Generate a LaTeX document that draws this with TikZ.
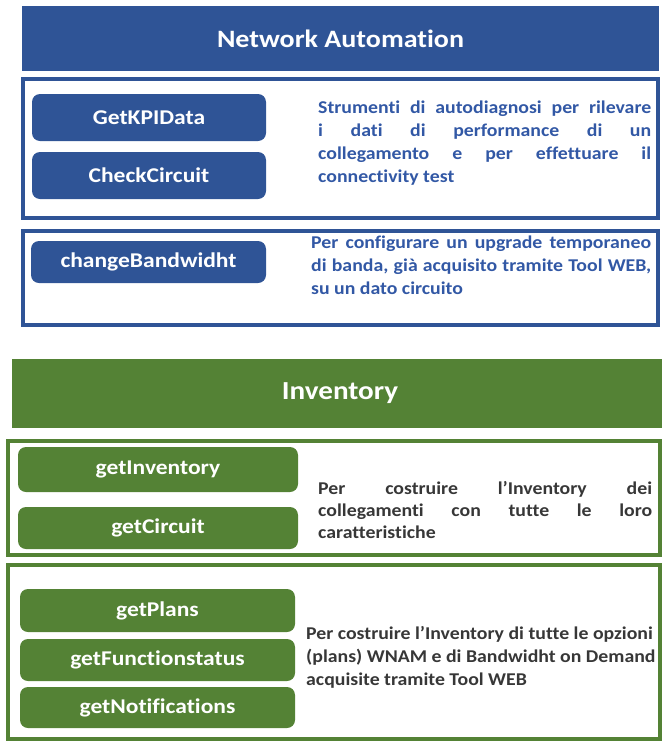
\documentclass[tikz,border=0pt]{standalone}
\usepackage{fontspec}
\setmainfont{Carlito}[Ligatures=NoCommon]
\newfontfamily\descfont{Carlito}[Ligatures=NoCommon,FakeStretch=1.1]
\newfontfamily\btnfont{Carlito}[Ligatures=NoCommon,FakeStretch=1.12]
\definecolor{nablue}{RGB}{47,84,150}
\definecolor{ingreen}{RGB}{84,130,53}
\definecolor{txtblue}{RGB}{50,88,165}
\definecolor{txtgray}{RGB}{55,55,55}
\begin{document}
\begin{tikzpicture}[x=1pt,y=-1pt,
  hdrtext/.style={text=white,inner sep=0pt,font=\btnfont\bfseries\fontsize{26}{30}\selectfont},
  bluebtn/.style={fill=nablue,rounded corners=8pt},
  greenbtn/.style={fill=ingreen,rounded corners=8pt},
  btnlabel/.style={text=white,inner sep=0pt,font=\btnfont\bfseries\fontsize{21}{24}\selectfont},
  bluebox/.style={draw=nablue,line width=4pt},
  greenbox/.style={draw=ingreen,line width=4pt},
  btext/.style={anchor=base west,inner sep=0pt,text=txtblue,font=\descfont\bfseries\fontsize{18}{21}\selectfont},
  gtext/.style={anchor=base west,inner sep=0pt,text=txtgray,font=\descfont\bfseries\fontsize{18}{21}\selectfont}
]
\useasboundingbox (0,0) rectangle (662,742);
% Network Automation
\fill[nablue] (22,6) rectangle (659,71);
\node[hdrtext,font=\btnfont\bfseries\fontsize{25}{30}\selectfont] (na) at (340.5,39) {Network Automation};
\draw[bluebox] (23,79) rectangle (658,218);
\draw[bluebox] (23,231) rectangle (658,325);
\fill[bluebtn] (32,94) rectangle (266,141) node[midway,btnlabel] (kpi) {GetKPIData};
\fill[bluebtn] (32,152) rectangle (266,199) node[midway,btnlabel] (cc) {CheckCircuit};
\fill[bluebtn] (31,241) rectangle (266,283) node[midway,btnlabel] (cb) {changeBandwidht};
\node[btext] (t1a) at (318,113) {\makebox[333pt][s]{Strumenti di autodiagnosi per rilevare}};
\node[btext] (t1b) at (318,136) {\makebox[333pt][s]{i dati di performance di un}};
\node[btext] (t1c) at (318,159) {\makebox[333pt][s]{collegamento e per effettuare il}};
\node[btext] (t1d) at (318,182) {connectivity test};
\node[btext] (t2a) at (311,248) {\makebox[340pt][s]{Per configurare un upgrade temporaneo}};
\node[btext] (t2b) at (311,271) {\makebox[340pt][s]{di banda, già acquisito tramite Tool WEB,}};
\node[btext] (t2c) at (311,294) {su un dato circuito};
% Inventory
\fill[ingreen] (12,359) rectangle (662,428);
\node[hdrtext] (inv) at (340,393) {Inventory};
\draw[greenbox] (8,441) rectangle (660,555);
\draw[greenbox] (8,565) rectangle (660,739);
\fill[greenbtn] (18,447) rectangle (298,492) node[midway,btnlabel] (gi) {getInventory};
\fill[greenbtn] (18,507) rectangle (298,549) node[midway,btnlabel] (gc) {getCircuit};
\fill[greenbtn] (20,589) rectangle (295,632) node[midway,btnlabel] (gp) {getPlans};
\fill[greenbtn] (20,639) rectangle (295,681) node[midway,btnlabel] (gf) {getFunctionstatus};
\fill[greenbtn] (20,687) rectangle (295,728) node[midway,btnlabel] (gn) {getNotifications};
\node[gtext] (t3a) at (318,494) {\makebox[334pt][s]{Per costruire l’Inventory dei}};
\node[gtext] (t3b) at (318,516) {\makebox[334pt][s]{collegamenti con tutte le loro}};
\node[gtext] (t3c) at (318,538) {caratteristiche};
\node[gtext] (t4a) at (306,639) {Per costruire l’Inventory di tutte le opzioni};
\node[gtext] (t4b) at (306,662) {(plans) WNAM e di Bandwidht on Demand};
\node[gtext] (t4c) at (306,685) {acquisite tramite Tool WEB};
\end{tikzpicture}
\end{document}
